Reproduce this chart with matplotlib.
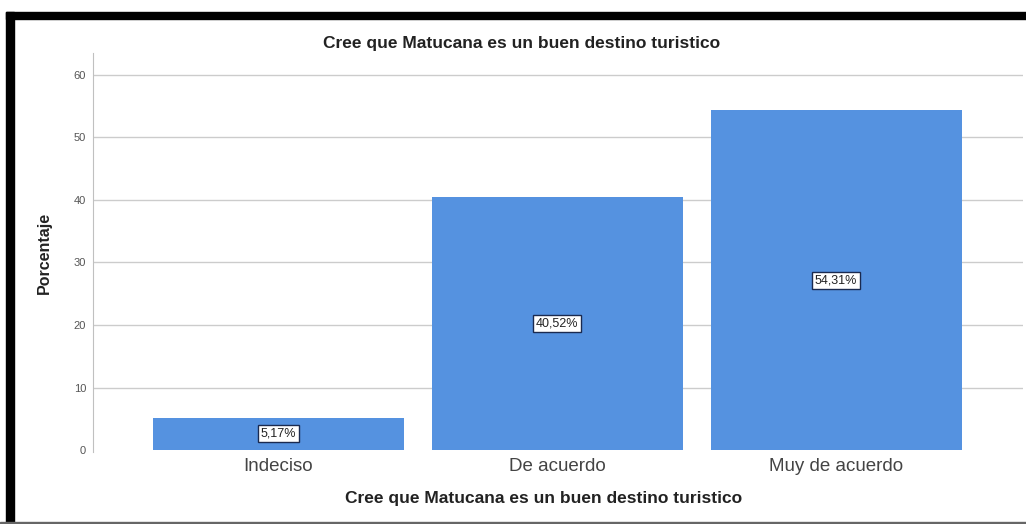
import matplotlib.pyplot as plt
from matplotlib.patches import Rectangle

categorias = ['Indeciso', 'De acuerdo', 'Muy de acuerdo']
porcentajes = [5.17, 40.52, 54.31]
etiquetas = ['5,17%', '40,52%', '54,31%']
ticks_y = [0, 10, 20, 30, 40, 50, 60]
titulo = 'Cree que Matucana es un buen destino turistico'

plt.rcParams['font.family'] = ['Liberation Sans', 'DejaVu Sans']

fig = plt.figure(figsize=(10.26, 5.24), dpi=100)
ax = fig.add_axes([0.0906, 0.1374, 0.9064, 0.7615])

x = list(range(len(categorias)))
ax.bar(x, porcentajes, width=0.9, color='#5592e0', zorder=3)

# etiquetas dentro de las barras
for xi, val, txt in zip(x, porcentajes, etiquetas):
    ax.text(xi, val / 2, txt, ha='center', va='center', fontsize=9,
            color='#222222', zorder=4,
            bbox=dict(boxstyle='square,pad=0.2', fc='white', ec='#1a2a50', lw=1))

ax.set_xlim(-0.665, 2.67)
ax.set_ylim(-0.3, 63.5)
ax.set_yticks(ticks_y)
ax.set_yticklabels([str(t) for t in ticks_y], fontsize=8, color='#555555')
ax.set_xticks(x)
ax.set_xticklabels(categorias, fontsize=13.5, color='#444444')
ax.tick_params(axis='y', length=0, pad=5)
ax.tick_params(axis='x', length=0, pad=4)

ax.yaxis.grid(True, color='#cccccc', lw=1, zorder=0)
ax.set_axisbelow(True)
for s in ['top', 'right', 'bottom']:
    ax.spines[s].set_visible(False)
ax.spines['left'].set_color('#c0c0c0')

ax.set_ylabel('Porcentaje', fontsize=11.5, fontweight='bold', color='#222222', labelpad=16)
ax.set_xlabel(titulo, fontsize=12.5, fontweight='bold', color='#222222')
ax.xaxis.set_label_coords(0.485, -0.098)
fig.text(0.508, 0.917, titulo, ha='center', va='center', fontsize=12.5,
         fontweight='bold', color='#222222')

fig.canvas.draw()
ax.yaxis.get_gridlines()[0].set_visible(False)

# marco negro de la captura
W, H = 1026, 524
fig.patches.append(Rectangle((6 / W, 1 - 19 / H), 1, 7 / H, transform=fig.transFigure,
                             color='black', zorder=10))
fig.patches.append(Rectangle((6 / W, 0), 8 / W, 1 - 12 / H, transform=fig.transFigure,
                             color='black', zorder=10))
fig.patches.append(Rectangle((0, 0), 1, 2 / H, transform=fig.transFigure,
                             color='#666666', zorder=10))

fig.savefig('out.png', dpi=100)
